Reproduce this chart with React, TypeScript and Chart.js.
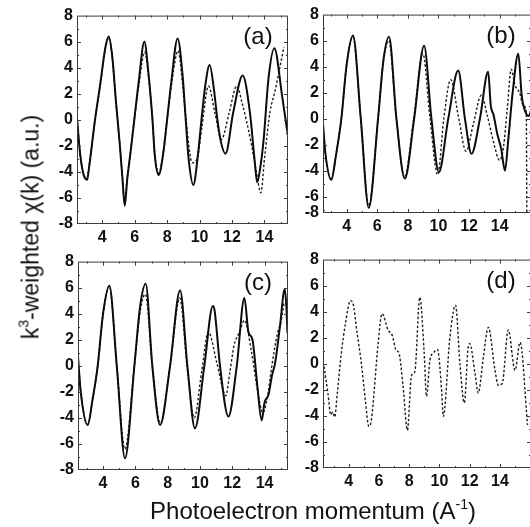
import React, { useEffect, useRef } from "react";
import { Chart, registerables } from "chart.js";

Chart.register(...registerables);

// ---------- Data (k in Å^-1, chi weighted) ----------
// Panel (a)
const aSolidK = [2.45, 2.65, 2.85, 3.07, 3.2, 3.56, 3.9, 4.19, 4.4, 4.62, 4.85, 5.08, 5.25, 5.39, 5.55, 5.73, 5.98, 6.25, 6.6, 6.85, 7.1, 7.24, 7.48, 7.75, 8.0, 8.26, 8.65, 8.95, 9.15, 9.32, 9.62, 9.9, 10.12, 10.35, 10.62, 10.9, 11.08, 11.3, 11.6, 12.08, 12.66, 13.1, 13.4, 13.55, 13.75, 13.95, 14.25, 14.61, 15.08, 15.37, 15.45];
const aSolidY = [0.1, -2.7, -4.2, -4.6, -3.6, 0.0, 2.9, 5.5, 6.4, 4.9, 1.4, -1.8, -4.5, -6.6, -4.5, -2.7, 0.0, 2.9, 6.0, 3.6, 0.0, -2.7, -4.24, -2.7, 0.0, 2.9, 6.25, 3.5, 0.0, -2.9, -5.0, -2.7, 0.0, 2.6, 4.2, 2.2, 0.2, -1.6, -2.6, 0.6, 3.4, 0.6, -3.2, -4.8, -3.6, -1.5, 3.2, 5.5, 1.9, -0.6, -1.2];
const aDashK = [2.45, 2.65, 2.85, 3.07, 3.2, 3.56, 3.9, 4.19, 4.4, 4.62, 4.85, 5.08, 5.25, 5.39, 5.55, 5.73, 5.98, 6.25, 6.62, 6.87, 7.1, 7.24, 7.5, 7.75, 8.0, 8.26, 8.68, 8.95, 9.15, 9.55, 9.85, 10.15, 10.55, 10.95, 11.35, 11.8, 12.3, 12.6, 13.2, 13.5, 13.78, 14.0, 14.34, 14.65, 14.96, 15.2];
const aDashY = [0.2, -2.7, -4.1, -4.5, -3.5, 0.0, 2.8, 5.4, 6.3, 4.8, 1.4, -1.8, -4.4, -6.3, -4.4, -2.6, 0.0, 2.6, 5.2, 3.2, 0.0, -2.6, -4.1, -2.6, 0.0, 2.6, 5.3, 2.8, 0.2, -3.3, -3.0, -0.5, 2.6, 0.5, -1.5, 0.4, 2.6, 1.4, -1.9, -4.0, -5.6, -3.0, 0.6, 2.2, 4.1, 5.6];

// Panel (b)
const bSolidK = [2.45, 2.6, 2.99, 3.3, 3.65, 4.0, 4.41, 4.92, 5.44, 6.05, 6.4, 6.77, 7.25, 7.8, 8.41, 9.06, 9.54, 10.03, 10.64, 11.29, 11.73, 12.16, 12.71, 13.25, 13.42, 13.6, 13.85, 14.1, 14.35, 14.55, 14.85, 15.22, 15.44, 15.6, 15.9, 16.05];
const bSolidY = [-0.4, -2.6, -4.7, -2.8, 0.0, 4.2, 6.4, 0.0, -6.85, 0.0, 4.5, 6.3, 0.0, -4.6, 0.0, 5.6, 0.0, -4.1, 0.0, 3.7, 0.0, -2.7, 0.0, 3.6, 1.0, 0.3, -1.2, -2.3, -4.0, -1.8, 2.0, 5.0, 1.8, 0.8, 0.2, 0.6];
const bDashK = [2.45, 2.6, 2.99, 3.3, 3.65, 4.0, 4.41, 4.92, 5.44, 6.05, 6.4, 6.75, 7.25, 7.78, 8.38, 8.98, 9.45, 9.95, 10.35, 10.8, 11.3, 11.8, 12.3, 12.8, 13.2, 13.6, 14.0, 14.25, 14.5, 14.76, 15.0, 15.3, 15.55, 15.74, 15.78];
const bDashY = [-0.4, -2.6, -4.7, -2.8, 0.0, 4.2, 6.3, 0.0, -6.7, 0.0, 4.4, 6.0, 0.0, -4.5, 0.0, 5.0, 0.0, -4.3, 0.0, 3.0, 0.2, -2.5, -0.3, 1.8, 0.2, -1.8, -3.2, -2.2, 0.8, 3.8, 2.6, 2.0, 1.0, 0.5, -7.8];

// Panel (c)
const cSolidK = [2.45, 2.62, 3.05, 3.35, 3.67, 4.0, 4.39, 4.85, 5.36, 5.94, 6.3, 6.64, 7.05, 7.53, 8.15, 8.77, 9.22, 9.69, 10.27, 10.8, 10.9, 11.24, 11.76, 12.28, 12.75, 13.0, 13.25, 13.55, 13.82, 14.0, 14.25, 14.45, 14.65, 14.95, 15.25, 15.35, 15.42];
const cSolidY = [0.7, -2.0, -4.55, -2.6, 0.0, 4.0, 6.15, 0.0, -7.1, 0.0, 4.6, 6.3, 0.0, -4.55, 0.0, 5.8, 0.0, -4.8, 0.0, 4.6, 4.3, 0.0, -3.9, 0.0, 5.2, 2.6, 2.0, -1.5, -4.2, -2.8, -2.2, -0.8, 0.2, 3.0, 5.9, 4.5, 2.5];
const cDashK = [2.45, 2.62, 3.05, 3.35, 3.67, 4.0, 4.39, 4.85, 5.36, 5.94, 6.3, 6.62, 7.05, 7.55, 8.15, 8.75, 9.2, 9.65, 10.1, 10.52, 11.05, 11.6, 11.85, 12.1, 12.45, 12.75, 13.2, 13.55, 13.9, 14.2, 14.45, 14.8, 15.0, 15.2];
const cDashY = [0.7, -2.0, -4.5, -2.6, 0.0, 3.9, 6.1, 0.0, -6.4, 0.0, 4.2, 5.5, 0.0, -4.4, 0.0, 5.2, 0.0, -4.0, -0.5, 2.6, 0.2, -2.3, -0.5, 1.5, 2.6, 3.5, 1.0, -1.8, -3.6, -2.2, 0.0, 2.5, 3.3, 4.8];

// Panel (d)
const dDashK = [2.37, 2.63, 2.81, 2.95, 3.07, 3.25, 3.51, 3.8, 4.11, 4.29, 4.55, 4.84, 5.1, 5.33, 5.5, 5.94, 6.2, 6.6, 6.87, 7.15, 7.3, 7.6, 7.88, 8.15, 8.37, 8.7, 8.99, 9.14, 9.37, 9.58, 9.87, 10.15, 10.25, 10.69, 11.06, 11.35, 11.64, 11.9, 12.0, 12.35, 12.56, 12.9, 13.23, 13.67, 13.89, 14.15, 14.55, 14.99, 15.33, 15.82];
const dDashY = [-0.2, -2.3, -3.9, -3.7, -4.1, -2.2, 0.8, 3.2, 4.85, 4.6, 2.4, 0.0, -2.8, -4.8, -4.3, 1.5, 3.85, 2.6, 2.2, 1.0, 0.9, -1.8, -5.1, -0.9, -0.6, 5.1, 0.8, -2.5, 0.3, 0.8, 1.1, -2.2, -4.05, 2.05, 4.5, 0.0, -3.0, 1.3, 1.55, -0.75, -2.25, 0.5, 2.8, -0.5, -1.65, -1.5, 2.6, -0.5, 1.65, -4.7];

// Ticks
const X_TICKS = [4, 6, 8, 10, 12, 14];
const X_TICK_LABELS = ["4", "6", "8", "10", "12", "14"];
const Y_TICKS = [-8, -6, -4, -2, 0, 2, 4, 6, 8];
const Y_TICKS_B = [-7.25, -6, -4, -2, 0, 2, 4, 6, 8];
const Y_TICK_LABELS = ["-8", "-6", "-4", "-2", "0", "2", "4", "6", "8"];

const PANEL_LABELS = ["(a)", "(b)", "(c)", "(d)"];
const X_TITLE = "Photoelectron momentum (A";
const Y_TITLE_A = "k";
const Y_TITLE_B = "-weighted \u03c7(k) (a.u.)";

// ---------- Layout ----------
const PAD_L = 40;
const PAD_T = 12;
const PAD_R = 14;
const PAD_B = 30;
const FONT = '"Liberation Sans", Arial, Helvetica, sans-serif';

type Series = { k: number[]; y: number[]; dashed: boolean };
type Panel = {
  id: string;
  label: string;
  box: { l: number; t: number; r: number; b: number };
  xMin: number;
  xMax: number;
  yTicks: number[];
  series: Series[];
};

const PANELS: Panel[] = [
  {
    id: "a",
    label: PANEL_LABELS[0],
    box: { l: 77, t: 14, r: 288, b: 224 },
    xMin: 2.45,
    xMax: 15.45,
    yTicks: Y_TICKS,
    series: [
      { k: aSolidK, y: aSolidY, dashed: false },
      { k: aDashK, y: aDashY, dashed: true },
    ],
  },
  {
    id: "b",
    label: PANEL_LABELS[1],
    box: { l: 323, t: 13, r: 531, b: 213 },
    xMin: 2.45,
    xMax: 16.05,
    yTicks: Y_TICKS_B,
    series: [
      { k: bSolidK, y: bSolidY, dashed: false },
      { k: bDashK, y: bDashY, dashed: true },
    ],
  },
  {
    id: "c",
    label: PANEL_LABELS[2],
    box: { l: 78, t: 260, r: 288, b: 470 },
    xMin: 2.45,
    xMax: 15.45,
    yTicks: Y_TICKS,
    series: [
      { k: cSolidK, y: cSolidY, dashed: false },
      { k: cDashK, y: cDashY, dashed: true },
    ],
  },
  {
    id: "d",
    label: PANEL_LABELS[3],
    box: { l: 323, t: 258, r: 531, b: 468 },
    xMin: 2.3,
    xMax: 16.05,
    yTicks: Y_TICKS,
    series: [{ k: dDashK, y: dDashY, dashed: true }],
  },
];

const framePlugin = {
  id: "frame",
  afterDatasetsDraw(chart: any, _args: any, opts: any) {
    const { ctx, chartArea: a, scales } = chart;
    const xs = scales.x;
    const ys = scales.y;
    ctx.save();
    ctx.strokeStyle = "#3c3c3c";
    ctx.lineWidth = 1;
    ctx.strokeRect(a.left + 0.5, a.top + 0.5, a.right - a.left - 1, a.bottom - a.top - 1);
    ctx.beginPath();
    const xVals: number[] = [];
    X_TICKS.forEach((v) => xVals.push(v));
    X_TICKS.forEach((v) => xVals.push(v + 1));
    xVals.push(X_TICKS[0] - 1);
    xVals.forEach((v) => {
      if (v <= xs.min || v >= xs.max) return;
      const px = Math.round(xs.getPixelForValue(v)) + 0.5;
      const len = X_TICKS.includes(v) ? 4 : 2;
      ctx.moveTo(px, a.bottom);
      ctx.lineTo(px, a.bottom - len);
      ctx.moveTo(px, a.top);
      ctx.lineTo(px, a.top + len);
    });
    const yVals: number[] = [];
    Y_TICKS.forEach((v) => yVals.push(v));
    Y_TICKS.forEach((v) => yVals.push(v + 1));
    yVals.forEach((v) => {
      if (v <= ys.min || v >= ys.max) return;
      const py = Math.round(ys.getPixelForValue(v)) + 0.5;
      const len = Y_TICKS.includes(v) ? 4 : 2;
      ctx.moveTo(a.left, py);
      ctx.lineTo(a.left + len, py);
      ctx.moveTo(a.right, py);
      ctx.lineTo(a.right - len, py);
    });
    ctx.stroke();
    ctx.fillStyle = "#111";
    ctx.font = `24px ${FONT}`;
    ctx.textAlign = "center";
    ctx.textBaseline = "middle";
    ctx.fillText(opts.label, a.right - 30, a.top + 22);
    ctx.restore();
  },
};

function PanelChart({ p }: { p: Panel }) {
  const ref = useRef<HTMLCanvasElement>(null);
  const w = p.box.r - p.box.l + PAD_L + PAD_R;
  const h = p.box.b - p.box.t + PAD_T + PAD_B;
  useEffect(() => {
    const tickFont = { family: FONT, size: 16, weight: "bold" as const };
    const chart = new Chart(ref.current!, {
      type: "line",
      data: {
        datasets: p.series.map((s) => ({
          data: s.k.map((k, i) => ({ x: k, y: s.y[i] })),
          borderColor: s.dashed ? "#1e1e1e" : "#0c0c0c",
          borderWidth: s.dashed ? 1.4 : 2,
          borderDash: s.dashed ? [2.5, 2] : [],
          pointRadius: 0,
          cubicInterpolationMode: "monotone" as const,
          fill: false,
        })),
      },
      options: {
        animation: false,
        responsive: false,
        events: [],
        layout: { padding: { left: 0, top: PAD_T, right: PAD_R, bottom: 0 } },
        plugins: {
          legend: { display: false },
          tooltip: { enabled: false },
          frame: { label: p.label },
        } as any,
        scales: {
          x: {
            type: "linear",
            min: p.xMin,
            max: p.xMax,
            grid: { display: false, drawTicks: false },
            border: { display: false },
            afterBuildTicks: (s: any) => {
              s.ticks = X_TICKS.map((v) => ({ value: v }));
            },
            afterFit: (s: any) => {
              s.height = PAD_B;
            },
            ticks: {
              padding: 4,
              color: "#111",
              font: tickFont,
              maxRotation: 0,
              autoSkip: false,
              callback: (_v: any, i: number) => X_TICK_LABELS[i],
            },
          },
          y: {
            type: "linear",
            min: p.yTicks[0],
            max: p.yTicks[p.yTicks.length - 1],
            grid: { display: false, drawTicks: false },
            border: { display: false },
            afterBuildTicks: (s: any) => {
              s.ticks = p.yTicks.map((v) => ({ value: v }));
            },
            afterFit: (s: any) => {
              s.width = PAD_L;
            },
            ticks: {
              padding: 4,
              color: "#111",
              font: tickFont,
              autoSkip: false,
              callback: (_v: any, i: number) => Y_TICK_LABELS[i],
            },
          },
        },
      },
      plugins: [framePlugin as any],
    });
    return () => chart.destroy();
  }, [p]);
  return (
    <canvas
      ref={ref}
      width={w}
      height={h}
      style={{
        position: "absolute",
        left: p.box.l - PAD_L,
        top: p.box.t - PAD_T,
        width: w,
        height: h,
      }}
    />
  );
}

export default function App() {
  useEffect(() => {
    document.body.style.margin = "0";
    document.body.style.overflow = "hidden";
  }, []);
  return (
    <div
      style={{
        position: "relative",
        width: 530,
        height: 527,
        overflow: "hidden",
        background: "#fff",
        fontFamily: FONT,
        color: "#111",
      }}
    >
      {PANELS.map((p) => (
        <PanelChart key={p.id} p={p} />
      ))}
      <div
        style={{
          position: "absolute",
          left: 32,
          top: 227,
          transform: "translate(-50%, -50%) rotate(-90deg)",
          whiteSpace: "nowrap",
          fontSize: 23,
          lineHeight: "26px",
        }}
      >
        {Y_TITLE_A}
        <span style={{ fontSize: 14, position: "relative", top: -10 }}>3</span>
        {Y_TITLE_B}
      </div>
      <div
        style={{
          position: "absolute",
          left: 313,
          top: 497,
          transform: "translateX(-50%)",
          whiteSpace: "nowrap",
          fontSize: 24,
          lineHeight: "28px",
        }}
      >
        {X_TITLE}
        <span style={{ fontSize: 14, position: "relative", top: -10 }}>-1</span>)
      </div>
    </div>
  );
}
